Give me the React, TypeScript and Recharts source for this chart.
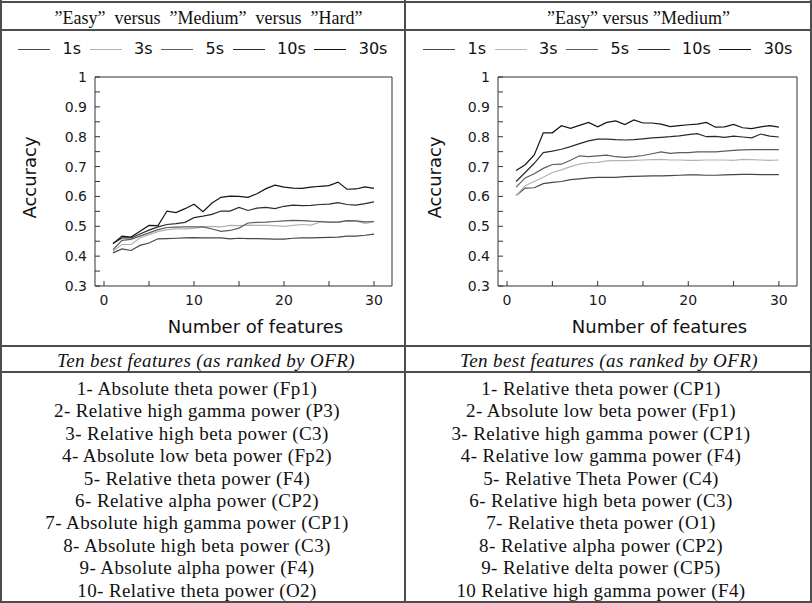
import { LineChart, Line, XAxis, YAxis } from 'recharts';

const features = [1, 2, 3, 4, 5, 6, 7, 8, 9, 10, 11, 12, 13, 14, 15, 16, 17, 18, 19, 20, 21, 22, 23, 24, 25, 26, 27, 28, 29, 30];

const seriesNames = ['1s', '3s', '5s', '10s', '30s'];
const seriesKeys = ['s1', 's3', 's5', 's10', 's30'];
const seriesColors = ['#474747', '#b3b3b3', '#5c5c5c', '#2b2b2b', '#141414'];

// "Easy" vs "Medium" vs "Hard"
const hard1s = [0.411, 0.424, 0.419, 0.436, 0.444, 0.458, 0.459, 0.46, 0.461, 0.462, 0.461, 0.461, 0.461, 0.458, 0.46, 0.459, 0.459, 0.458, 0.457, 0.457, 0.46, 0.461, 0.461, 0.462, 0.463, 0.464, 0.467, 0.467, 0.47, 0.474];
const hard3s = [0.417, 0.439, 0.439, 0.461, 0.472, 0.482, 0.489, 0.491, 0.491, 0.493, 0.498, 0.5, 0.498, 0.503, 0.502, 0.504, 0.503, 0.503, 0.502, 0.5, 0.503, 0.506, 0.504, 0.514, 0.514, 0.513, 0.518, 0.517, 0.51, 0.515];
const hard5s = [0.422, 0.453, 0.456, 0.467, 0.478, 0.489, 0.496, 0.497, 0.498, 0.498, 0.498, 0.491, 0.483, 0.486, 0.494, 0.511, 0.513, 0.514, 0.516, 0.518, 0.52, 0.519, 0.517, 0.516, 0.514, 0.514, 0.519, 0.518, 0.515, 0.516];
const hard10s = [0.442, 0.461, 0.461, 0.474, 0.487, 0.498, 0.506, 0.509, 0.513, 0.529, 0.534, 0.54, 0.551, 0.551, 0.563, 0.553, 0.561, 0.563, 0.559, 0.567, 0.571, 0.569, 0.57, 0.573, 0.574, 0.579, 0.573, 0.571, 0.576, 0.582];
const hard30s = [0.442, 0.467, 0.464, 0.483, 0.503, 0.502, 0.551, 0.546, 0.559, 0.574, 0.549, 0.578, 0.597, 0.601, 0.6, 0.597, 0.609, 0.626, 0.638, 0.631, 0.628, 0.627, 0.631, 0.634, 0.636, 0.648, 0.624, 0.625, 0.632, 0.627];

// "Easy" vs "Medium"
const med1s = [0.603, 0.628, 0.629, 0.643, 0.647, 0.65, 0.656, 0.659, 0.662, 0.664, 0.664, 0.664, 0.666, 0.667, 0.668, 0.669, 0.669, 0.67, 0.671, 0.672, 0.672, 0.671, 0.671, 0.672, 0.673, 0.674, 0.674, 0.673, 0.673, 0.673];
const med3s = [0.603, 0.636, 0.65, 0.664, 0.68, 0.689, 0.7, 0.708, 0.713, 0.714, 0.719, 0.72, 0.72, 0.721, 0.722, 0.723, 0.724, 0.722, 0.722, 0.721, 0.721, 0.722, 0.722, 0.722, 0.721, 0.724, 0.723, 0.722, 0.721, 0.722];
const med5s = [0.631, 0.662, 0.676, 0.694, 0.707, 0.708, 0.721, 0.736, 0.733, 0.736, 0.738, 0.733, 0.731, 0.733, 0.737, 0.743, 0.749, 0.744, 0.747, 0.747, 0.749, 0.749, 0.749, 0.752, 0.754, 0.756, 0.757, 0.757, 0.757, 0.757];
const med10s = [0.65, 0.68, 0.711, 0.747, 0.752, 0.758, 0.767, 0.777, 0.786, 0.792, 0.792, 0.79, 0.789, 0.79, 0.793, 0.796, 0.798, 0.8, 0.803, 0.807, 0.81, 0.8, 0.801, 0.798, 0.802, 0.799, 0.796, 0.809, 0.802, 0.799];
const med30s = [0.687, 0.706, 0.739, 0.813, 0.813, 0.837, 0.828, 0.838, 0.848, 0.833, 0.848, 0.853, 0.841, 0.856, 0.846, 0.846, 0.842, 0.834, 0.837, 0.84, 0.842, 0.848, 0.832, 0.833, 0.841, 0.83, 0.827, 0.833, 0.837, 0.832];

const xTicks = [0, 5, 10, 15, 20, 25, 30];
const yTicks = [0.3, 0.35, 0.4, 0.45, 0.5, 0.55, 0.6, 0.65, 0.7, 0.75, 0.8, 0.85, 0.9, 0.95, 1];

const leftTitle = '\u201dEasy\u201d  versus  \u201dMedium\u201d  versus  \u201dHard\u201d';
const rightTitle = '\u201dEasy\u201d versus \u201dMedium\u201d';
const listHeader = 'Ten best features (as ranked by OFR)';

const leftFeatures = [
  '1- Absolute theta power (Fp1)',
  '2- Relative high gamma power (P3)',
  '3- Relative high beta power (C3)',
  '4- Absolute low beta power (Fp2)',
  '5- Relative theta power (F4)',
  '6- Relative alpha power (CP2)',
  '7- Absolute high gamma power (CP1)',
  '8- Absolute high beta power (C3)',
  '9- Absolute alpha power (F4)',
  '10- Relative theta power (O2)',
];
const rightFeatures = [
  '1- Relative theta power (CP1)',
  '2- Absolute low beta power (Fp1)',
  '3- Relative high gamma power (CP1)',
  '4- Relative low gamma power (F4)',
  '5- Relative Theta Power (C4)',
  '6- Relative high beta power (C3)',
  '7- Relative theta power (O1)',
  '8- Relative alpha power (CP2)',
  '9- Relative delta power (CP5)',
  '10 Relative high gamma power (F4)',
];

const SANS = '"DejaVu Sans", Verdana, sans-serif';
const SERIF = '"Liberation Serif", "Times New Roman", serif';
const BORDER = '#4d4d4d';

function buildRows(series: number[][]) {
  return features.map((n, i) => {
    const row: Record<string, number> = { n };
    seriesKeys.forEach((k, j) => {
      row[k] = series[j][i];
    });
    return row;
  });
}

const hardData = buildRows([hard1s, hard3s, hard5s, hard10s, hard30s]);
const medData = buildRows([med1s, med3s, med5s, med10s, med30s]);

const isMult = (v: number, step: number) => Math.abs(v / step - Math.round(v / step)) < 1e-6;
const fmtX = (v: number) => (isMult(v, 10) ? String(v) : '');
const fmtY = (v: number) => (isMult(v, 0.1) ? (v === 1 ? '1' : v.toFixed(1)) : '');

const renderYTick = (props: any) => {
  const { x, y, payload } = props;
  const label = fmtY(payload.value);
  if (!label) return <g />;
  return (
    <text x={x - 13} y={y} textAnchor="end" dominantBaseline="central" fontSize={14} fontFamily={SANS} fill="#1a1a1a">
      {label}
    </text>
  );
};

const renderXLabel = (props: any) => {
  const vb = props.viewBox;
  return (
    <text x={vb.x + vb.width / 2 + 12} y={vb.y + 47} textAnchor="middle" fontSize={18} fontFamily={SANS} fill="#111">
      Number of features
    </text>
  );
};

const renderYLabel = (props: any) => {
  const vb = props.viewBox;
  const cx = vb.x + 24;
  const cy = vb.y + vb.height / 2 - 4;
  return (
    <text
      x={cx}
      y={cy}
      transform={`rotate(-90, ${cx}, ${cy})`}
      textAnchor="middle"
      dominantBaseline="central"
      fontSize={18}
      fontFamily={SANS}
      fill="#111"
    >
      Accuracy
    </text>
  );
};

const tickStyle = { fontSize: 14, fill: '#1a1a1a', fontFamily: SANS };

function AccuracyChart({ data, left, yAxisWidth }: { data: any[]; left: number; yAxisWidth: number }) {
  return (
    <div style={{ position: 'absolute', left, top: 0 }}>
      <LineChart width={405} height={345} data={data} margin={{ top: 72, right: 8, bottom: 5, left: 5 }}>
        <XAxis
          dataKey="n"
          type="number"
          domain={[-1, 32]}
          allowDataOverflow
          ticks={xTicks}
          interval={0}
          tickSize={-5}
          tickMargin={14}
          tickFormatter={fmtX}
          tick={tickStyle}
          stroke="#333"
          height={54}
          label={renderXLabel}
        />
        <XAxis
          xAxisId="top"
          orientation="top"
          dataKey="n"
          type="number"
          domain={[-1, 32]}
          allowDataOverflow
          ticks={xTicks}
          interval={0}
          tickSize={-5}
          tick={false}
          stroke="#333"
          height={5}
        />
        <YAxis
          type="number"
          domain={[0.3, 1]}
          allowDataOverflow
          ticks={yTicks}
          interval={0}
          tickSize={-5}
          tickMargin={0}
          tick={renderYTick}
          stroke="#333"
          width={yAxisWidth}
          label={renderYLabel}
        />
        <YAxis
          yAxisId="right"
          orientation="right"
          type="number"
          domain={[0.3, 1]}
          allowDataOverflow
          ticks={yTicks}
          interval={0}
          tickSize={-5}
          tick={false}
          stroke="#333"
          width={5}
        />
        {seriesKeys.map((k, i) => (
          <Line
            key={k}
            dataKey={k}
            name={seriesNames[i]}
            type="linear"
            stroke={seriesColors[i]}
            strokeWidth={1.2}
            dot={false}
            isAnimationActive={false}
          />
        ))}
      </LineChart>
    </div>
  );
}

function LegendRow({ left }: { left: number }) {
  return (
    <div
      style={{
        position: 'absolute',
        left: left + 18,
        top: 39,
        height: 20,
        display: 'flex',
        alignItems: 'center',
        fontFamily: SANS,
        fontSize: 16,
        color: '#111',
        whiteSpace: 'nowrap',
      }}
    >
      {seriesNames.map((name, i) => (
        <div key={name} style={{ display: 'flex', alignItems: 'center' }}>
          <span style={{ display: 'inline-block', width: 32, height: 0, borderTop: `1.3px solid ${seriesColors[i]}`, marginRight: 12.5 }} />
          <span style={{ marginRight: 8.5, lineHeight: '20px' }}>{name}</span>
        </div>
      ))}
    </div>
  );
}

const listText = { fontFamily: SERIF, fontSize: 19, letterSpacing: '0.4px', lineHeight: '22.4px', color: '#111' };

function FeatureList({ center, items }: { center: number; items: string[] }) {
  return (
    <div style={{ position: 'absolute', left: center - 200, top: 377.9, width: 400, textAlign: 'center', ...listText }}>
      {items.map((t) => (
        <div key={t} style={{ whiteSpace: 'nowrap' }}>{t}</div>
      ))}
    </div>
  );
}

const hLine = (y: number) => (
  <div style={{ position: 'absolute', left: 0, top: y, width: 812, height: 2, background: BORDER }} />
);
const vLine = (x: number, y0: number, y1: number) => (
  <div style={{ position: 'absolute', left: x, top: y0, width: 2, height: y1 - y0, background: BORDER }} />
);

export default function App() {
  return (
    <div style={{ position: 'absolute', left: 0, top: 0, width: 812, height: 603, background: '#fff', overflow: 'hidden' }}>
      <AccuracyChart data={hardData} left={0} yAxisWidth={90} />
      <AccuracyChart data={medData} left={405} yAxisWidth={88} />
      <LegendRow left={0} />
      <LegendRow left={405} />

      <div style={{ position: 'absolute', left: 208.5 - 200, top: 9, width: 400, textAlign: 'center', fontFamily: SERIF, fontSize: 18, lineHeight: '18px', whiteSpace: 'pre', color: '#111' }}>
        {leftTitle}
      </div>
      <div style={{ position: 'absolute', left: 638.5 - 200, top: 9, width: 400, textAlign: 'center', fontFamily: SERIF, fontSize: 18, lineHeight: '18px', whiteSpace: 'pre', color: '#111' }}>
        {rightTitle}
      </div>

      <div style={{ position: 'absolute', left: 206 - 200, top: 349.7, width: 400, textAlign: 'center', fontStyle: 'italic', ...listText }}>
        {listHeader}
      </div>
      <div style={{ position: 'absolute', left: 609 - 200, top: 349.7, width: 400, textAlign: 'center', fontStyle: 'italic', ...listText }}>
        {listHeader}
      </div>

      <FeatureList center={197} items={leftFeatures} />
      <FeatureList center={601} items={rightFeatures} />

      {hLine(0.5)}
      {hLine(29.3)}
      {hLine(345.3)}
      {hLine(371.3)}
      {hLine(600.8)}
      {vLine(0.2, 0, 603)}
      {vLine(404.3, 0, 603)}
      {vLine(809.8, 0, 603)}
    </div>
  );
}
